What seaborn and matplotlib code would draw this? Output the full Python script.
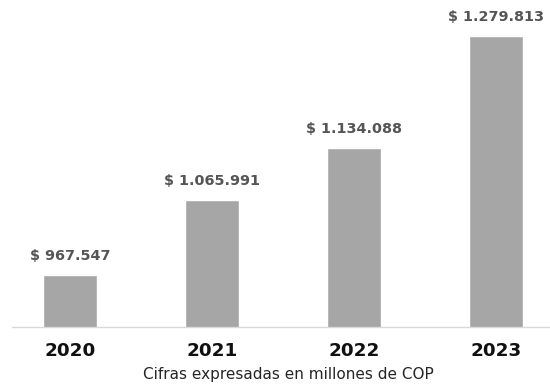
import matplotlib
matplotlib.use("Agg")
import matplotlib.pyplot as plt
import seaborn as sns
import pandas as pd

# Datos (millones de COP)
anios = ["2020", "2021", "2022", "2023"]
valores = [967547, 1065991, 1134088, 1279813]
etiquetas = ["$ 967.547", "$ 1.065.991", "$ 1.134.088", "$ 1.279.813"]

df = pd.DataFrame({"anio": anios, "valor": valores})

sns.set_style("white")
plt.rcParams["font.family"] = ["DejaVu Sans"]

fig = plt.figure(figsize=(5.5, 3.87), dpi=100)
ax = fig.add_axes([12 / 550, 1 - 327 / 387, 1 - 12 / 550, 327 / 387])

sns.barplot(data=df, x="anio", y="valor", color="#a6a6a6", saturation=1,
            width=0.38, ax=ax)

ax.set_ylim(900000, 1327000)
ax.set_xlim(-0.41, 3.38)

# Etiquetas de valor
for i, (v, t) in enumerate(zip(valores, etiquetas)):
    ax.annotate(t, (i, v), xytext=(0, 8.5), textcoords="offset points",
                ha="center", va="bottom", fontsize=10.4, fontweight="bold",
                color="#555555")

for s in ["top", "right", "left"]:
    ax.spines[s].set_visible(False)
ax.spines["bottom"].set_color("#d9d9d9")
ax.spines["bottom"].set_linewidth(1)
ax.set_yticks([])
ax.set_xlabel("")
ax.set_ylabel("")
ax.tick_params(axis="x", length=0, pad=11, labelsize=13.2, labelcolor="#111111")
for lbl in ax.get_xticklabels():
    lbl.set_fontweight("bold")

fig.text(288 / 550, 1 - 375 / 387, "Cifras expresadas en millones de COP",
         ha="center", va="center", fontsize=11, color="#262626")

fig.savefig("out.png", dpi=100)
